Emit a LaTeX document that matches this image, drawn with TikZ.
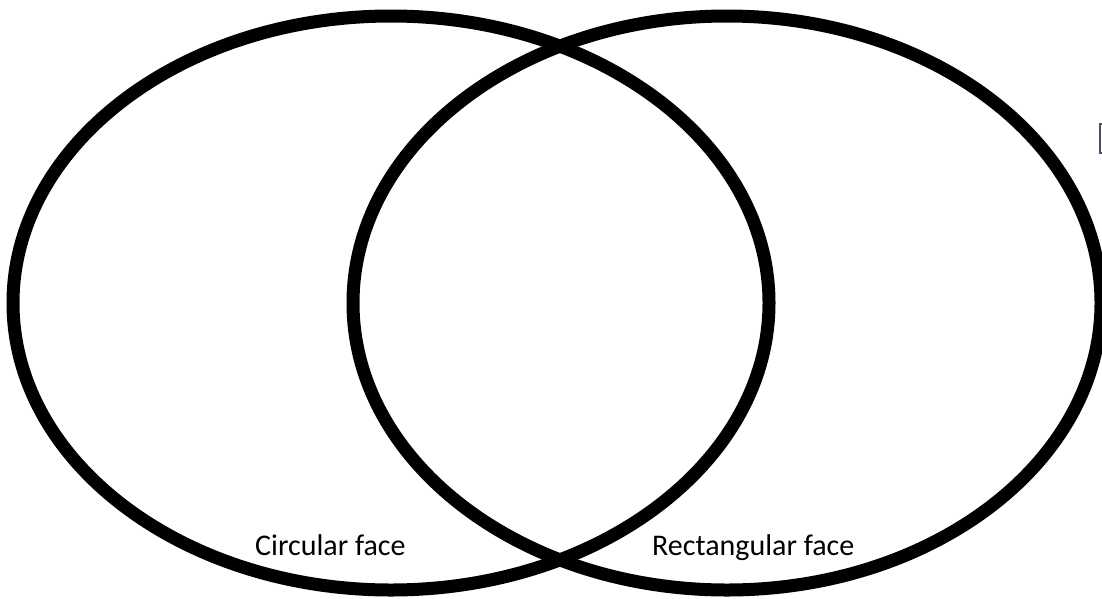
\documentclass[tikz,border=0pt]{standalone}
\usepackage{fontspec}
\setmainfont{Carlito}
\tikzset{
  venn/.style={draw=black, line width=13pt},
  lbl/.style={font=\fontsize{30}{35}\selectfont, anchor=base west, inner sep=0pt},
}
\begin{document}
\begin{tikzpicture}[x=1pt,y=-1pt]
\useasboundingbox (0,0) rectangle (1102,598);
\clip (0,0) rectangle (1102,598);
\fill[white] (0,0) rectangle (1102,598);
\draw[venn] (391,303) ellipse [x radius=378, y radius=287];
\draw[venn] (727,303) ellipse [x radius=374, y radius=287];
\node[lbl] (circ) at (255,555) {Circular face};
\node[lbl] (rect) at (652,555) {Rectangular face};
\draw[draw={rgb,255:red,90;green,70;blue,110}, line width=1.2pt] (1100,124) rectangle (1112,153);
\end{tikzpicture}
\end{document}
